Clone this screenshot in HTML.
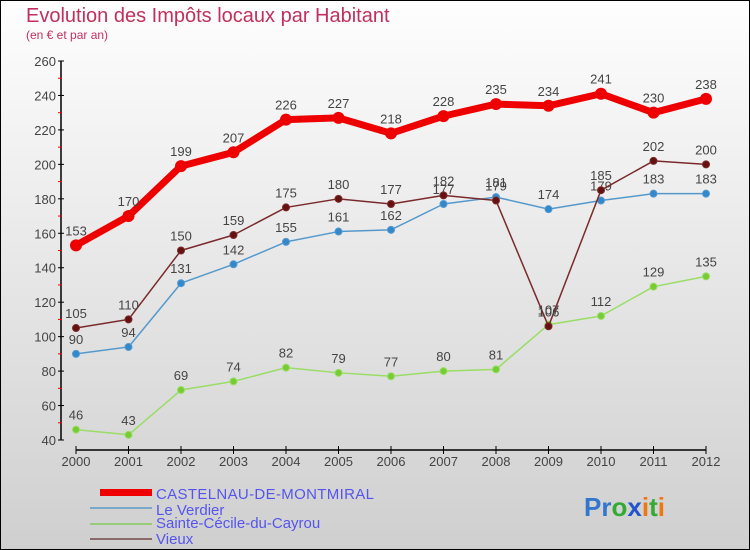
<!DOCTYPE html>
<html><head><meta charset="utf-8"><style>
body{margin:0}
svg{display:block;font-family:"Liberation Sans",sans-serif}
</style></head><body>
<svg id="c" width="750" height="550" viewBox="0 0 750 550">
<defs><linearGradient id="bg" x1="0" y1="0" x2="0" y2="1"><stop offset="0" stop-color="#fefefe"/><stop offset="1" stop-color="#cfcfcf"/></linearGradient></defs>
<rect x="0.5" y="0.5" width="749" height="549" fill="url(#bg)" stroke="#000"/>
<text x="26" y="22" font-size="20" fill="#c0305e">Evolution des Impôts locaux par Habitant</text>
<text x="26" y="39" font-size="12" fill="#c0305e">(en € et par an)</text>
<g id="axes"></g><g id="series"></g>
<g>
<rect x="100" y="489" width="52" height="7" fill="#e00"/>
<text x="156" y="499" font-size="15" fill="#5555ee" textLength="218">CASTELNAU-DE-MONTMIRAL</text>
<rect x="90" y="507" width="62" height="2" fill="#7aa8c8"/>
<text x="156" y="515" font-size="15" fill="#5555ee">Le Verdier</text>
<rect x="90" y="523" width="62" height="2" fill="#99cc77"/>
<text x="156" y="528" font-size="15" fill="#5555ee">Sainte-Cécile-du-Cayrou</text>
<rect x="90" y="538" width="62" height="2" fill="#8a6a6a"/>
<text x="156" y="544" font-size="15" fill="#5555ee">Vieux</text>
</g>
<text x="584" y="516" font-size="26" font-weight="bold"><tspan fill="#3377cc">Pr</tspan><tspan fill="#33aa33">o</tspan><tspan fill="#2255cc">x</tspan><tspan fill="#ee7711">i</tspan><tspan fill="#33aa33">t</tspan><tspan fill="#ee7711">i</tspan></text>
</svg>
<script>
const years=[2000,2001,2002,2003,2004,2005,2006,2007,2008,2009,2010,2011,2012];
const yTicks=[40,60,80,100,120,140,160,180,200,220,240,260];
const castelnau=[153,170,199,207,226,227,218,228,235,234,241,230,238];
const leVerdier=[90,94,131,142,155,161,162,177,181,174,179,183,183];
const sainteCecile=[46,43,69,74,82,79,77,80,81,107,112,129,135];
const vieux=[105,110,150,159,175,180,177,182,179,106,185,202,200];
const NS="http://www.w3.org/2000/svg";
const X=i=>76+i*52.5;
const Y=v=>440-(v-40)*(379/220);
function mk(tag,attrs,parent){const e=document.createElementNS(NS,tag);for(const k in attrs)e.setAttribute(k,attrs[k]);parent.appendChild(e);return e;}
const ax=document.getElementById('axes');
let l=mk('line',{x1:61,y1:61,x2:61,y2:440,stroke:'#000','stroke-width':1.5},ax);


yTicks.forEach((t,i)=>{
  mk('line',{x1:58,x2:64,y1:Y(t),y2:Y(t),stroke:'#000'},ax);
  if(i<yTicks.length-1){mk('line',{x1:58,x2:62,y1:Y(t+10),y2:Y(t+10),stroke:'#e00'},ax);}
  const tx=mk('text',{x:56,y:Y(t)+5,'text-anchor':'end','font-size':13,fill:'#444'},ax);
  tx.textContent=t;
  
  
});
l=mk('line',{x1:76,y1:450,x2:706,y2:450,stroke:'#000','stroke-width':1.5},ax);


years.forEach((y,i)=>{
  mk('line',{x1:X(i),x2:X(i),y1:446,y2:454,stroke:'#000'},ax);
  const tx=mk('text',{x:X(i),y:466,'text-anchor':'middle','font-size':13,fill:'#444'},ax);
  tx.textContent=y;
  
  
});
const sg=document.getElementById('series');
function draw(vals,name,color,dot,w,r,fs){
  const g=mk('g',{},sg);
  
  
  const p=mk('polyline',{points:vals.map((v,i)=>X(i)+','+Y(v)).join(' '),fill:'none',stroke:color,'stroke-width':w,'stroke-linejoin':'round'},g);
  
  
  vals.forEach((v,i)=>{
    const c=mk('circle',{cx:X(i),cy:Y(v),r:r,fill:dot,stroke:color,'stroke-width':w>3?0:1},g);
    
    
    const t=mk('text',{x:X(i),y:Y(v)-10,'text-anchor':'middle','font-size':fs,fill:'#444'},g);
    t.textContent=v;
    
    
  });
}
draw(sainteCecile,'sainte-cecile','#99dd66','#77cc33',1.5,3.5,13);
draw(leVerdier,'le-verdier','#5599cc','#3388cc',1.5,3.5,13);
draw(vieux,'vieux','#7a2a2a','#661111',1.5,3.5,13);
draw(castelnau,'castelnau','#ee0000','#ee0000',7,6,13);
</script>
</body></html>
